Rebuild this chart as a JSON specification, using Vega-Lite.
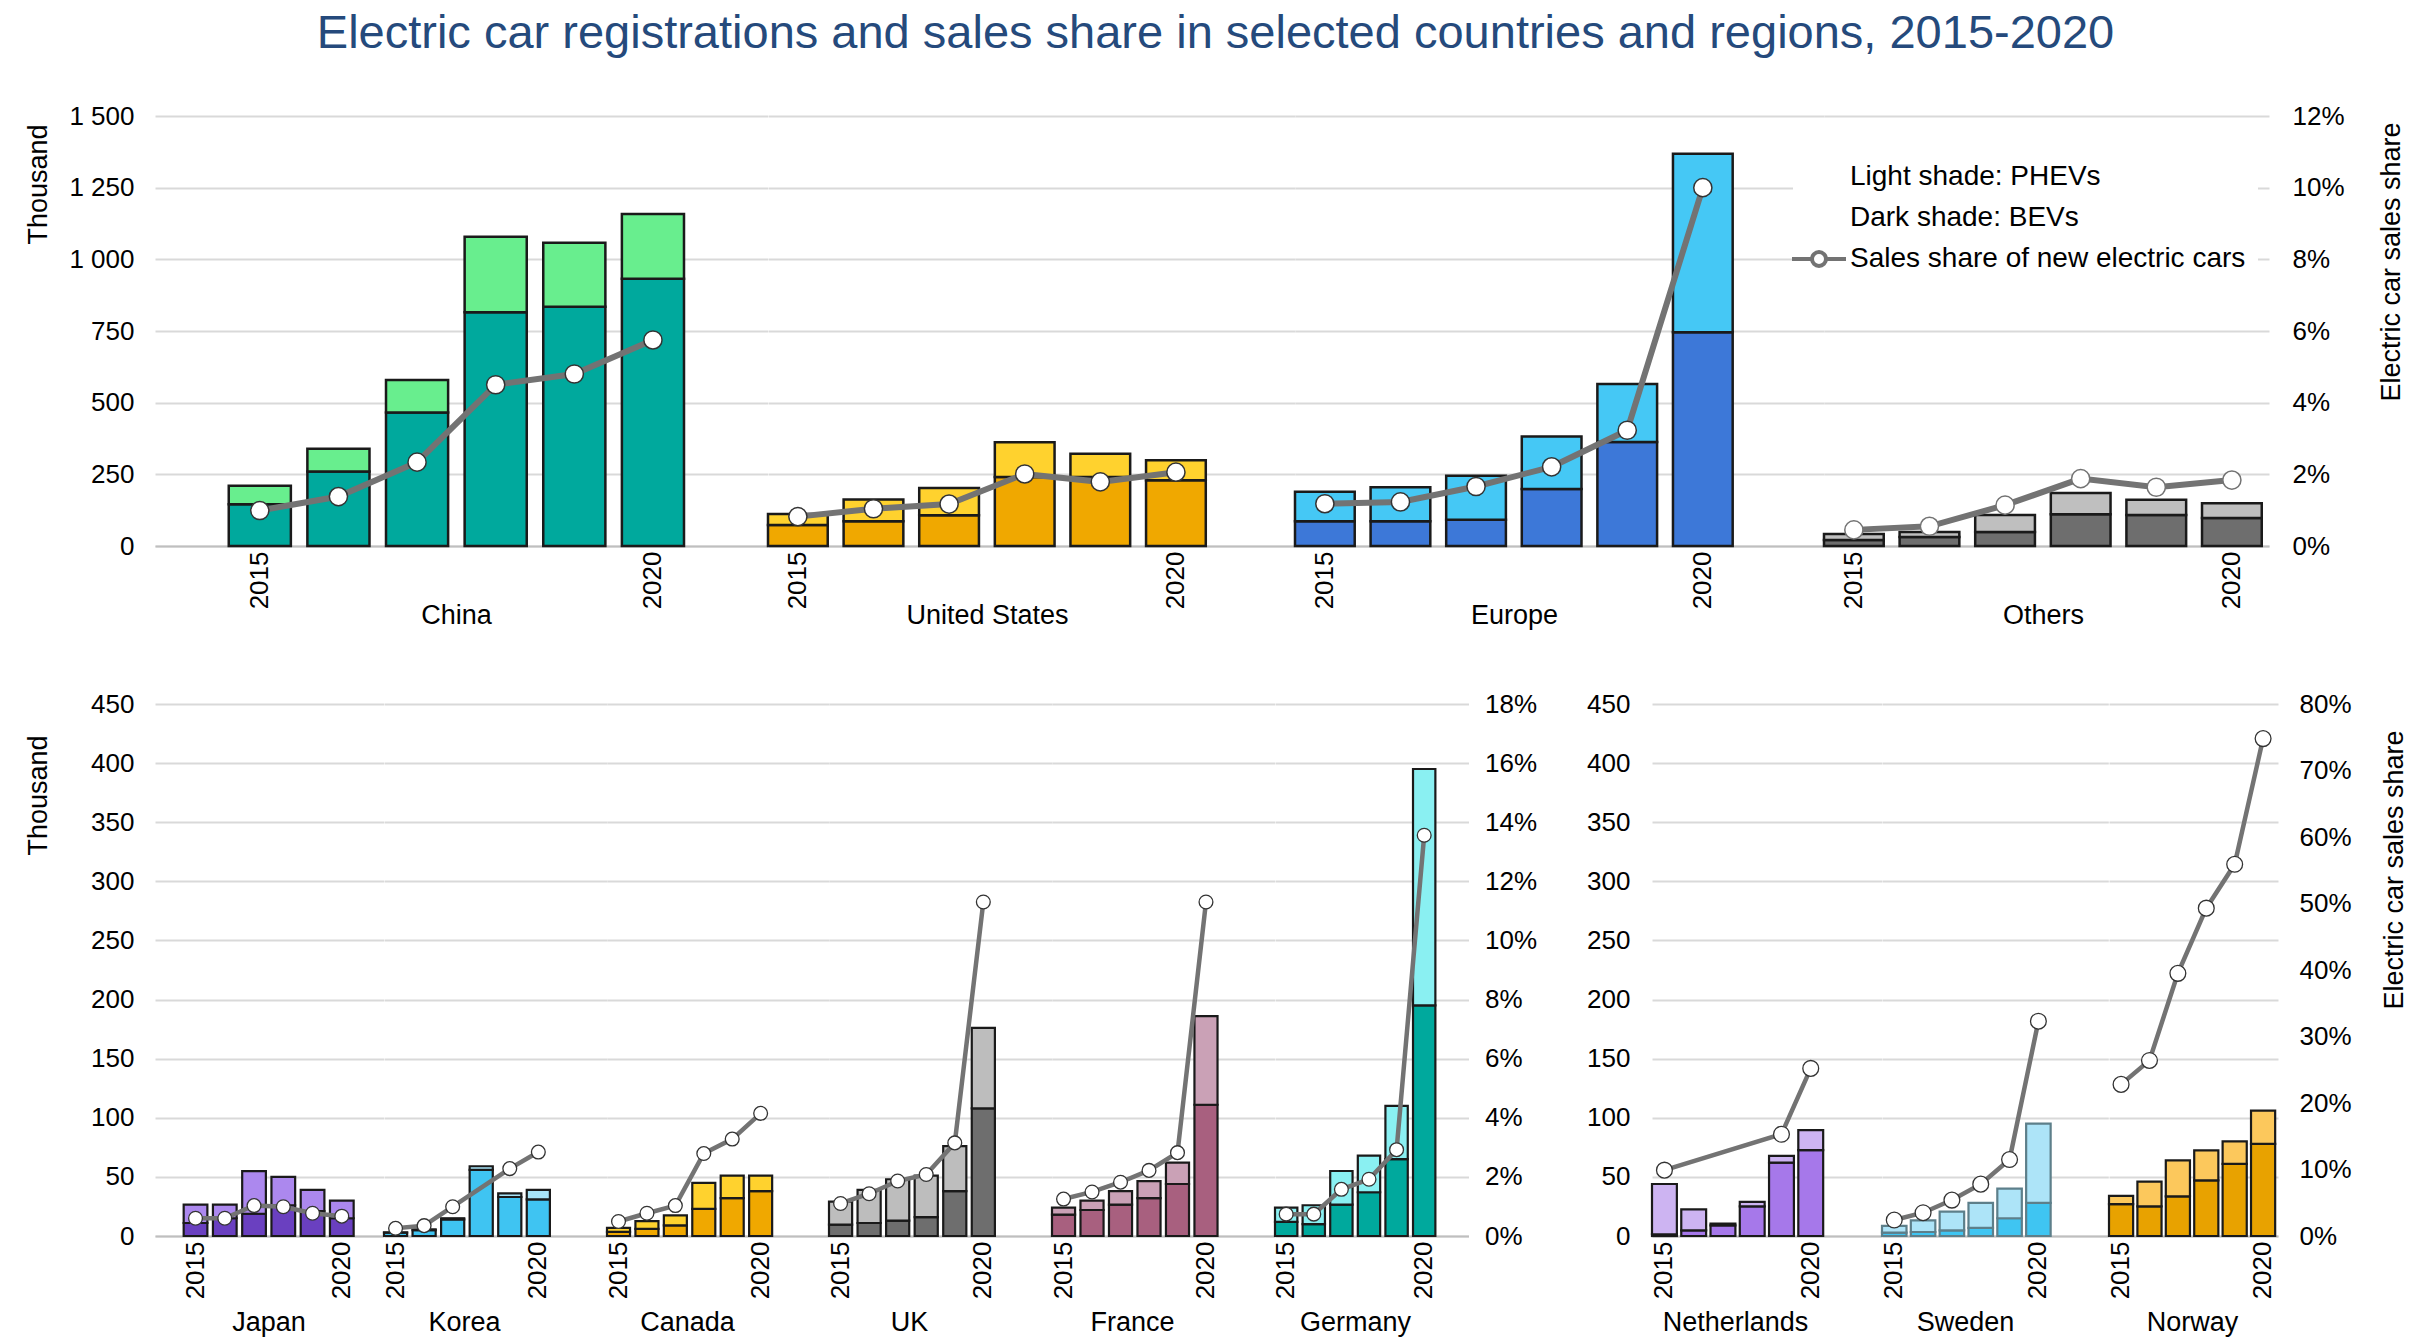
{
"$schema": "https://vega.github.io/schema/vega-lite/v6.json",
"padding": {"left": 24, "top": 10, "right": 5, "bottom": 5},
"background": "white",
"title": {"text": "Electric car registrations and sales share in selected countries and regions, 2015-2020", "fontSize": 47, "font": "Liberation Sans", "fontWeight": "normal", "color": "#254a7c", "anchor": "middle", "offset": 45},
"data": {"values": [
{"c":"China","yr":2015,"bev":146,"phev":64,"share":0.99},
{"c":"China","yr":2016,"bev":260,"phev":79,"share":1.38},
{"c":"China","yr":2017,"bev":466,"phev":113,"share":2.34},
{"c":"China","yr":2018,"bev":815,"phev":264,"share":4.5},
{"c":"China","yr":2019,"bev":835,"phev":223,"share":4.8},
{"c":"China","yr":2020,"bev":932,"phev":226,"share":5.75},
{"c":"United States","yr":2015,"bev":73,"phev":39,"share":0.82},
{"c":"United States","yr":2016,"bev":86,"phev":76,"share":1.04},
{"c":"United States","yr":2017,"bev":107,"phev":95,"share":1.17},
{"c":"United States","yr":2018,"bev":241,"phev":121,"share":2.01},
{"c":"United States","yr":2019,"bev":241,"phev":81,"share":1.79},
{"c":"United States","yr":2020,"bev":229,"phev":70,"share":2.06},
{"c":"Europe","yr":2015,"bev":86,"phev":103,"share":1.18},
{"c":"Europe","yr":2016,"bev":86,"phev":119,"share":1.23},
{"c":"Europe","yr":2017,"bev":92,"phev":153,"share":1.66},
{"c":"Europe","yr":2018,"bev":199,"phev":183,"share":2.21},
{"c":"Europe","yr":2019,"bev":363,"phev":202,"share":3.23},
{"c":"Europe","yr":2020,"bev":746,"phev":622,"share":10.0},
{"c":"Others","yr":2015,"bev":21,"phev":21,"share":0.45},
{"c":"Others","yr":2016,"bev":31,"phev":18,"share":0.55},
{"c":"Others","yr":2017,"bev":49,"phev":59,"share":1.14},
{"c":"Others","yr":2018,"bev":111,"phev":74,"share":1.88},
{"c":"Others","yr":2019,"bev":108,"phev":53,"share":1.64},
{"c":"Others","yr":2020,"bev":98,"phev":51,"share":1.84},
{"c":"Japan","yr":2015,"bev":11,"phev":15.5,"share":0.6},
{"c":"Japan","yr":2016,"bev":15,"phev":11.5,"share":0.6},
{"c":"Japan","yr":2017,"bev":18.8,"phev":36,"share":1.03},
{"c":"Japan","yr":2018,"bev":26,"phev":24,"share":0.99},
{"c":"Japan","yr":2019,"bev":21,"phev":18,"share":0.77},
{"c":"Japan","yr":2020,"bev":15,"phev":15,"share":0.67},
{"c":"Korea","yr":2015,"bev":2.9,"phev":0.1,"share":0.26},
{"c":"Korea","yr":2016,"bev":5,"phev":0.6,"share":0.35},
{"c":"Korea","yr":2017,"bev":14,"phev":1,"share":0.99},
{"c":"Korea","yr":2018,"bev":56,"phev":3,"share":null},
{"c":"Korea","yr":2019,"bev":33,"phev":3,"share":2.28},
{"c":"Korea","yr":2020,"bev":31,"phev":8,"share":2.84},
{"c":"Canada","yr":2015,"bev":3.5,"phev":3.3,"share":0.49},
{"c":"Canada","yr":2016,"bev":6,"phev":6.5,"share":0.77},
{"c":"Canada","yr":2017,"bev":9,"phev":8.5,"share":1.03},
{"c":"Canada","yr":2018,"bev":23,"phev":22,"share":2.79},
{"c":"Canada","yr":2019,"bev":32,"phev":19,"share":3.28},
{"c":"Canada","yr":2020,"bev":38,"phev":13,"share":4.15},
{"c":"UK","yr":2015,"bev":9.7,"phev":19.3,"share":1.1},
{"c":"UK","yr":2016,"bev":11,"phev":28,"share":1.43},
{"c":"UK","yr":2017,"bev":13,"phev":35,"share":1.86},
{"c":"UK","yr":2018,"bev":16,"phev":35,"share":2.08},
{"c":"UK","yr":2019,"bev":38,"phev":38,"share":3.15},
{"c":"UK","yr":2020,"bev":108,"phev":68,"share":11.3},
{"c":"France","yr":2015,"bev":18,"phev":6,"share":1.25},
{"c":"France","yr":2016,"bev":22,"phev":8,"share":1.49},
{"c":"France","yr":2017,"bev":26.5,"phev":11.5,"share":1.82},
{"c":"France","yr":2018,"bev":32,"phev":14.5,"share":2.22},
{"c":"France","yr":2019,"bev":44,"phev":18,"share":2.82},
{"c":"France","yr":2020,"bev":111,"phev":75,"share":11.3},
{"c":"Germany","yr":2015,"bev":12,"phev":12,"share":0.74},
{"c":"Germany","yr":2016,"bev":10,"phev":16,"share":0.74},
{"c":"Germany","yr":2017,"bev":26.5,"phev":28.5,"share":1.58},
{"c":"Germany","yr":2018,"bev":37,"phev":31,"share":1.92},
{"c":"Germany","yr":2019,"bev":65,"phev":45,"share":2.92},
{"c":"Germany","yr":2020,"bev":195,"phev":200,"share":13.56},
{"c":"Netherlands","yr":2015,"bev":1.5,"phev":42.5,"share":9.9},
{"c":"Netherlands","yr":2016,"bev":4.8,"phev":17.8,"share":null},
{"c":"Netherlands","yr":2017,"bev":9,"phev":1.5,"share":null},
{"c":"Netherlands","yr":2018,"bev":25,"phev":3.8,"share":null},
{"c":"Netherlands","yr":2019,"bev":62,"phev":5.8,"share":15.3},
{"c":"Netherlands","yr":2020,"bev":72.6,"phev":16.9,"share":25.2},
{"c":"Sweden","yr":2015,"bev":2.8,"phev":5.7,"share":2.4},
{"c":"Sweden","yr":2016,"bev":3.4,"phev":9.9,"share":3.5},
{"c":"Sweden","yr":2017,"bev":4.8,"phev":15.8,"share":5.4},
{"c":"Sweden","yr":2018,"bev":6.8,"phev":21.2,"share":7.8},
{"c":"Sweden","yr":2019,"bev":15,"phev":25,"share":11.5},
{"c":"Sweden","yr":2020,"bev":28,"phev":67,"share":32.3},
{"c":"Norway","yr":2015,"bev":27,"phev":7,"share":22.8},
{"c":"Norway","yr":2016,"bev":25,"phev":21,"share":26.4},
{"c":"Norway","yr":2017,"bev":33.5,"phev":30.5,"share":39.5},
{"c":"Norway","yr":2018,"bev":47,"phev":25.5,"share":49.3},
{"c":"Norway","yr":2019,"bev":61,"phev":19,"share":55.9},
{"c":"Norway","yr":2020,"bev":78,"phev":28,"share":74.8}
]},
"spacing": 63,
"resolve": {"scale": {"color": "independent", "stroke": "independent"}},
"vconcat": [
{
"hconcat": [
{"width": 612.5, "height": 430, "transform": [{"filter": "datum.c == 'China'"}],
 "layer": [
  {"transform": [{"fold": ["bev","phev"], "as": ["type","value"]}],
   "mark": {"type": "bar", "strokeWidth": 2.5},
   "encoding": {
    "x": {"field": "yr", "type": "ordinal", "scale": {"paddingInner": 0.21, "paddingOuter": 1.156, "align": 0.469}, "axis": {"values": [2015, 2020], "title": "China", "titleX": 301, "titleY": 56}},
    "y": {"field": "value", "type": "quantitative", "stack": "zero", "scale": {"domain": [0,1500]}, "axis": {"values": [0,250,500,750,1000,1250,1500], "labelExpr": "replace(format(datum.value, ','), ',', ' ')", "title": "Thousand", "titleX": -103, "titleY": 8}},
    "color": {"field": "type", "scale": {"domain": ["bev","phev"], "range": ["#00a99d","#68ee8e"]}, "legend": null},
    "order": {"field": "type", "sort": "ascending"}}},
  {"transform": [{"filter": "isValid(datum.share)"}],
   "mark": {"type": "line", "color": "#737373", "strokeWidth": 6, "point": {"filled": true, "fill": "white", "stroke": "#333333", "strokeWidth": 1.5, "size": 330}},
   "encoding": {"x": {"field": "yr", "type": "ordinal"}, "y": {"field": "share", "type": "quantitative", "scale": {"domain": [0,12]}, "axis": null}}}
 ],
 "resolve": {"scale": {"y": "independent"}}},
{"width": 527, "height": 430, "transform": [{"filter": "datum.c == 'United States'"}],
 "layer": [
  {"transform": [{"fold": ["bev","phev"], "as": ["type","value"]}],
   "mark": {"type": "bar", "strokeWidth": 2.5},
   "encoding": {
    "x": {"field": "yr", "type": "ordinal", "scale": {"paddingInner": 0.21, "paddingOuter": 0.59, "align": 0}, "axis": {"values": [2015, 2020], "title": "United States", "titleX": 219, "titleY": 56}},
    "y": {"field": "value", "type": "quantitative", "stack": "zero", "scale": {"domain": [0,1500]}, "axis": {"values": [0,250,500,750,1000,1250,1500], "labels": false, "title": null}},
    "color": {"field": "type", "scale": {"domain": ["bev","phev"], "range": ["#f0a800","#ffd22e"]}, "legend": null},
    "order": {"field": "type", "sort": "ascending"}}},
  {"transform": [{"filter": "isValid(datum.share)"}],
   "mark": {"type": "line", "color": "#737373", "strokeWidth": 6, "point": {"filled": true, "fill": "white", "stroke": "#333333", "strokeWidth": 1.5, "size": 330}},
   "encoding": {"x": {"field": "yr", "type": "ordinal"}, "y": {"field": "share", "type": "quantitative", "scale": {"domain": [0,12]}, "axis": null}}}
 ],
 "resolve": {"scale": {"y": "independent"}}},
{"width": 529, "height": 430, "transform": [{"filter": "datum.c == 'Europe'"}],
 "layer": [
  {"transform": [{"fold": ["bev","phev"], "as": ["type","value"]}],
   "mark": {"type": "bar", "strokeWidth": 2.5},
   "encoding": {
    "x": {"field": "yr", "type": "ordinal", "scale": {"paddingInner": 0.21, "paddingOuter": 0.604, "align": 0}, "axis": {"values": [2015, 2020], "title": "Europe", "titleX": 219, "titleY": 56}},
    "y": {"field": "value", "type": "quantitative", "stack": "zero", "scale": {"domain": [0,1500]}, "axis": {"values": [0,250,500,750,1000,1250,1500], "labels": false, "title": null}},
    "color": {"field": "type", "scale": {"domain": ["bev","phev"], "range": ["#3d78d8","#45c8f5"]}, "legend": null},
    "order": {"field": "type", "sort": "ascending"}}},
  {"transform": [{"filter": "isValid(datum.share)"}],
   "mark": {"type": "line", "color": "#737373", "strokeWidth": 6, "point": {"filled": true, "fill": "white", "stroke": "#333333", "strokeWidth": 1.5, "size": 330}},
   "encoding": {"x": {"field": "yr", "type": "ordinal"}, "y": {"field": "share", "type": "quantitative", "scale": {"domain": [0,12]}, "axis": null}}}
 ],
 "resolve": {"scale": {"y": "independent"}}},
{"width": 445, "height": 430, "transform": [{"filter": "datum.c == 'Others'"}],
 "layer": [
  {"transform": [{"fold": ["bev","phev"], "as": ["type","value"]}],
   "mark": {"type": "bar", "strokeWidth": 2.5},
   "encoding": {
    "x": {"field": "yr", "type": "ordinal", "scale": {"paddingInner": 0.21, "paddingOuter": 0.048, "align": 0}, "axis": {"values": [2015, 2020], "title": "Others", "titleX": 219, "titleY": 56}},
    "y": {"field": "value", "type": "quantitative", "stack": "zero", "scale": {"domain": [0,1500]}, "axis": {"values": [0,250,500,750,1000,1250,1500], "labels": false, "title": null}},
    "color": {"field": "type", "scale": {"domain": ["bev","phev"], "range": ["#6e6e6e","#bfbfbf"]}, "legend": null},
    "order": {"field": "type", "sort": "ascending"}}},
  {"transform": [{"filter": "isValid(datum.share)"}],
   "mark": {"type": "line", "strokeWidth": 6, "point": {"filled": true, "fill": "white", "strokeWidth": 1.5, "size": 330}},
   "encoding": {"x": {"field": "yr", "type": "ordinal"},
    "y": {"field": "share", "type": "quantitative", "scale": {"domain": [0,12]}, "axis": {"orient": "right", "values": [0,2,4,6,8,10,12], "labelExpr": "datum.value + '%'", "grid": false, "labelPadding": 23, "title": "Electric car sales share", "titleX": 136, "titleY": 6}},
    "stroke": {"datum": "Sales share of new electric cars", "scale": {"domain": ["Light shade: PHEVs","Dark shade: BEVs","Sales share of new electric cars"], "range": ["transparent","transparent","#737373"]},
      "legend": {"title": null, "orient": "none", "legendX": -31, "legendY": 35, "symbolType": "M-2.7,0L-0.7,0M0.7,0L2.7,0M0.7,0A0.7,0.7,0,1,1,-0.7,0A0.7,0.7,0,1,1,0.7,0", "symbolSize": 400, "symbolStrokeWidth": 4, "symbolFillColor": "white", "labelFontSize": 28, "labelFont": "Liberation Sans", "labelColor": "black", "labelOffset": 17, "rowPadding": 11, "fillColor": "white", "padding": 12, "labelLimit": 700}}}}
 ],
 "resolve": {"scale": {"y": "independent"}}}
],
"spacing": 0, "bounds": "flush", "resolve": {"scale": {"color": "independent", "stroke": "independent"}}
},
{
"hconcat": [
{"hconcat": [
{"width": 228.5, "height": 532, "transform": [{"filter": "datum.c == 'Japan'"}],
 "layer": [
  {"transform": [{"fold": ["bev","phev"], "as": ["type","value"]}],
   "mark": {"type": "bar", "strokeWidth": 2.2},
   "encoding": {
    "x": {"field": "yr", "type": "ordinal", "scale": {"paddingInner": 0.19, "paddingOuter": 1.234, "align": 0.49}, "axis": {"values": [2015, 2020], "title": "Japan", "titleX": 113.5, "titleY": 73}},
    "y": {"field": "value", "type": "quantitative", "stack": "zero", "scale": {"domain": [0,450]}, "axis": {"values": [0,50,100,150,200,250,300,350,400,450], "title": "Thousand", "titleX": -103, "titleY": 31}},
    "color": {"field": "type", "scale": {"domain": ["bev","phev"], "range": ["#6a40c0","#ac88ee"]}, "legend": null},
    "order": {"field": "type", "sort": "ascending"}}},
  {"transform": [{"filter": "isValid(datum.share)"}],
   "mark": {"type": "line", "color": "#737373", "strokeWidth": 4.5, "point": {"filled": true, "fill": "white", "stroke": "#333333", "strokeWidth": 1.3, "size": 190}},
   "encoding": {"x": {"field": "yr", "type": "ordinal"}, "y": {"field": "share", "type": "quantitative", "scale": {"domain": [0,18]}, "axis": null}}}
 ],
 "resolve": {"scale": {"y": "independent"}}},
{"width": 223, "height": 532, "transform": [{"filter": "datum.c == 'Korea'"}],
 "layer": [
  {"transform": [{"fold": ["bev","phev"], "as": ["type","value"]}],
   "mark": {"type": "bar", "strokeWidth": 2.2},
   "encoding": {
    "x": {"field": "yr", "type": "ordinal", "scale": {"paddingInner": 0.19, "paddingOuter": 1.134, "align": 0}, "axis": {"values": [2015, 2020], "title": "Korea", "titleX": 80, "titleY": 73}},
    "y": {"field": "value", "type": "quantitative", "stack": "zero", "scale": {"domain": [0,450]}, "axis": {"values": [0,50,100,150,200,250,300,350,400,450], "labels": false, "title": null}},
    "color": {"field": "type", "scale": {"domain": ["bev","phev"], "range": ["#3fc4f2","#a8e4f8"]}, "legend": null},
    "order": {"field": "type", "sort": "ascending"}}},
  {"transform": [{"filter": "isValid(datum.share)"}],
   "mark": {"type": "line", "color": "#737373", "strokeWidth": 4.5, "point": {"filled": true, "fill": "white", "stroke": "#333333", "strokeWidth": 1.3, "size": 190}},
   "encoding": {"x": {"field": "yr", "type": "ordinal"}, "y": {"field": "share", "type": "quantitative", "scale": {"domain": [0,18]}, "axis": null}}}
 ],
 "resolve": {"scale": {"y": "independent"}}},
{"width": 222, "height": 532, "transform": [{"filter": "datum.c == 'Canada'"}],
 "layer": [
  {"transform": [{"fold": ["bev","phev"], "as": ["type","value"]}],
   "mark": {"type": "bar", "strokeWidth": 2.2},
   "encoding": {
    "x": {"field": "yr", "type": "ordinal", "scale": {"paddingInner": 0.19, "paddingOuter": 1.116, "align": 0}, "axis": {"values": [2015, 2020], "title": "Canada", "titleX": 80, "titleY": 73}},
    "y": {"field": "value", "type": "quantitative", "stack": "zero", "scale": {"domain": [0,450]}, "axis": {"values": [0,50,100,150,200,250,300,350,400,450], "labels": false, "title": null}},
    "color": {"field": "type", "scale": {"domain": ["bev","phev"], "range": ["#f0a800","#ffd22e"]}, "legend": null},
    "order": {"field": "type", "sort": "ascending"}}},
  {"transform": [{"filter": "isValid(datum.share)"}],
   "mark": {"type": "line", "color": "#737373", "strokeWidth": 4.5, "point": {"filled": true, "fill": "white", "stroke": "#333333", "strokeWidth": 1.3, "size": 190}},
   "encoding": {"x": {"field": "yr", "type": "ordinal"}, "y": {"field": "share", "type": "quantitative", "scale": {"domain": [0,18]}, "axis": null}}}
 ],
 "resolve": {"scale": {"y": "independent"}}},
{"width": 223, "height": 532, "transform": [{"filter": "datum.c == 'UK'"}],
 "layer": [
  {"transform": [{"fold": ["bev","phev"], "as": ["type","value"]}],
   "mark": {"type": "bar", "strokeWidth": 2.2},
   "encoding": {
    "x": {"field": "yr", "type": "ordinal", "scale": {"paddingInner": 0.19, "paddingOuter": 1.134, "align": 0}, "axis": {"values": [2015, 2020], "title": "UK", "titleX": 80, "titleY": 73}},
    "y": {"field": "value", "type": "quantitative", "stack": "zero", "scale": {"domain": [0,450]}, "axis": {"values": [0,50,100,150,200,250,300,350,400,450], "labels": false, "title": null}},
    "color": {"field": "type", "scale": {"domain": ["bev","phev"], "range": ["#6e6e6e","#bdbdbd"]}, "legend": null},
    "order": {"field": "type", "sort": "ascending"}}},
  {"transform": [{"filter": "isValid(datum.share)"}],
   "mark": {"type": "line", "color": "#737373", "strokeWidth": 4.5, "point": {"filled": true, "fill": "white", "stroke": "#333333", "strokeWidth": 1.3, "size": 190}},
   "encoding": {"x": {"field": "yr", "type": "ordinal"}, "y": {"field": "share", "type": "quantitative", "scale": {"domain": [0,18]}, "axis": null}}}
 ],
 "resolve": {"scale": {"y": "independent"}}},
{"width": 222.5, "height": 532, "transform": [{"filter": "datum.c == 'France'"}],
 "layer": [
  {"transform": [{"fold": ["bev","phev"], "as": ["type","value"]}],
   "mark": {"type": "bar", "strokeWidth": 2.2},
   "encoding": {
    "x": {"field": "yr", "type": "ordinal", "scale": {"paddingInner": 0.19, "paddingOuter": 1.125, "align": 0}, "axis": {"values": [2015, 2020], "title": "France", "titleX": 80, "titleY": 73}},
    "y": {"field": "value", "type": "quantitative", "stack": "zero", "scale": {"domain": [0,450]}, "axis": {"values": [0,50,100,150,200,250,300,350,400,450], "labels": false, "title": null}},
    "color": {"field": "type", "scale": {"domain": ["bev","phev"], "range": ["#a8607f","#caa1b6"]}, "legend": null},
    "order": {"field": "type", "sort": "ascending"}}},
  {"transform": [{"filter": "isValid(datum.share)"}],
   "mark": {"type": "line", "color": "#737373", "strokeWidth": 4.5, "point": {"filled": true, "fill": "white", "stroke": "#333333", "strokeWidth": 1.3, "size": 190}},
   "encoding": {"x": {"field": "yr", "type": "ordinal"}, "y": {"field": "share", "type": "quantitative", "scale": {"domain": [0,18]}, "axis": null}}}
 ],
 "resolve": {"scale": {"y": "independent"}}},
{"width": 193.5, "height": 532, "transform": [{"filter": "datum.c == 'Germany'"}],
 "layer": [
  {"transform": [{"fold": ["bev","phev"], "as": ["type","value"]}],
   "mark": {"type": "bar", "strokeWidth": 2.2},
   "encoding": {
    "x": {"field": "yr", "type": "ordinal", "scale": {"paddingInner": 0.19, "paddingOuter": 0.6, "align": 0}, "axis": {"values": [2015, 2020], "title": "Germany", "titleX": 80, "titleY": 73}},
    "y": {"field": "value", "type": "quantitative", "stack": "zero", "scale": {"domain": [0,450]}, "axis": {"values": [0,50,100,150,200,250,300,350,400,450], "labels": false, "title": null}},
    "color": {"field": "type", "scale": {"domain": ["bev","phev"], "range": ["#00a99d","#8af0f2"]}, "legend": null},
    "order": {"field": "type", "sort": "ascending"}}},
  {"transform": [{"filter": "isValid(datum.share)"}],
   "mark": {"type": "line", "color": "#737373", "strokeWidth": 4.5, "point": {"filled": true, "fill": "white", "stroke": "#333333", "strokeWidth": 1.3, "size": 190}},
   "encoding": {"x": {"field": "yr", "type": "ordinal"}, "y": {"field": "share", "type": "quantitative", "scale": {"domain": [0,18]}, "axis": {"orient": "right", "values": [0,2,4,6,8,10,12,14,16,18], "labelExpr": "datum.value + '%'", "grid": false, "labelPadding": 16, "title": null}}}}
 ],
 "resolve": {"scale": {"y": "independent"}}}
], "spacing": 0, "bounds": "flush", "resolve": {"scale": {"color": "independent", "stroke": "independent"}}},
{"hconcat": [
{"width": 229.7, "height": 532, "transform": [{"filter": "datum.c == 'Netherlands'"}],
 "layer": [
  {"transform": [{"fold": ["bev","phev"], "as": ["type","value"]}],
   "mark": {"type": "bar", "strokeWidth": 2.2},
   "encoding": {
    "x": {"field": "yr", "type": "ordinal", "scale": {"paddingInner": 0.15, "paddingOuter": 1.12, "align": 0}, "axis": {"values": [2015, 2020], "title": "Netherlands", "titleX": 83, "titleY": 73}},
    "y": {"field": "value", "type": "quantitative", "stack": "zero", "scale": {"domain": [0,450]}, "axis": {"values": [0,50,100,150,200,250,300,350,400,450], "title": null, "labelPadding": 22}},
    "color": {"field": "type", "scale": {"domain": ["bev","phev"], "range": ["#a678ea","#cdb4f2"]}, "legend": null},
    "order": {"field": "type", "sort": "ascending"}}},
  {"transform": [{"filter": "isValid(datum.share)"}],
   "mark": {"type": "line", "color": "#737373", "strokeWidth": 4.5, "point": {"filled": true, "fill": "white", "stroke": "#333333", "strokeWidth": 1.3, "size": 250}},
   "encoding": {"x": {"field": "yr", "type": "ordinal"}, "y": {"field": "share", "type": "quantitative", "scale": {"domain": [0,80]}, "axis": null}}}
 ],
 "resolve": {"scale": {"y": "independent"}}},
{"width": 226.3, "height": 532, "transform": [{"filter": "datum.c == 'Sweden'"}],
 "layer": [
  {"transform": [{"fold": ["bev","phev"], "as": ["type","value"]}],
   "mark": {"type": "bar", "strokeWidth": 2.2, "stroke": "#5d7f8a"},
   "encoding": {
    "x": {"field": "yr", "type": "ordinal", "scale": {"paddingInner": 0.15, "paddingOuter": 1.06, "align": 0}, "axis": {"values": [2015, 2020], "title": "Sweden", "titleX": 83, "titleY": 73}},
    "y": {"field": "value", "type": "quantitative", "stack": "zero", "scale": {"domain": [0,450]}, "axis": {"values": [0,50,100,150,200,250,300,350,400,450], "labels": false, "title": null}},
    "color": {"field": "type", "scale": {"domain": ["bev","phev"], "range": ["#3fc5f2","#ade4f8"]}, "legend": null},
    "order": {"field": "type", "sort": "ascending"}}},
  {"transform": [{"filter": "isValid(datum.share)"}],
   "mark": {"type": "line", "color": "#737373", "strokeWidth": 4.5, "point": {"filled": true, "fill": "white", "stroke": "#333333", "strokeWidth": 1.3, "size": 250}},
   "encoding": {"x": {"field": "yr", "type": "ordinal"}, "y": {"field": "share", "type": "quantitative", "scale": {"domain": [0,80]}, "axis": null}}}
 ],
 "resolve": {"scale": {"y": "independent"}}},
{"width": 169, "height": 532, "transform": [{"filter": "datum.c == 'Norway'"}],
 "layer": [
  {"transform": [{"fold": ["bev","phev"], "as": ["type","value"]}],
   "mark": {"type": "bar", "strokeWidth": 2.2},
   "encoding": {
    "x": {"field": "yr", "type": "ordinal", "scale": {"paddingInner": 0.15, "paddingOuter": 0.05, "align": 0}, "axis": {"values": [2015, 2020], "title": "Norway", "titleX": 83, "titleY": 73}},
    "y": {"field": "value", "type": "quantitative", "stack": "zero", "scale": {"domain": [0,450]}, "axis": {"values": [0,50,100,150,200,250,300,350,400,450], "labels": false, "title": null}},
    "color": {"field": "type", "scale": {"domain": ["bev","phev"], "range": ["#e8a200","#fcc85c"]}, "legend": null},
    "order": {"field": "type", "sort": "ascending"}}},
  {"transform": [{"filter": "isValid(datum.share)"}],
   "mark": {"type": "line", "color": "#737373", "strokeWidth": 4.5, "point": {"filled": true, "fill": "white", "stroke": "#333333", "strokeWidth": 1.3, "size": 250}},
   "encoding": {"x": {"field": "yr", "type": "ordinal"}, "y": {"field": "share", "type": "quantitative", "scale": {"domain": [0,80]}, "axis": {"orient": "right", "values": [0,10,20,30,40,50,60,70,80], "labelExpr": "datum.value + '%'", "grid": false, "labelPadding": 21, "title": "Electric car sales share", "titleX": 130, "titleY": 26}}}}
 ],
 "resolve": {"scale": {"y": "independent"}}}
], "spacing": 0, "bounds": "flush", "resolve": {"scale": {"color": "independent", "stroke": "independent"}}}
], "spacing": 49, "resolve": {"scale": {"color": "independent", "stroke": "independent"}}
}
],
"config": {
 "view": {"stroke": null},
 "font": "Liberation Sans",
 "bar": {"stroke": "#1a1a1a"},
 "axis": {"labelFont": "Liberation Sans", "titleFont": "Liberation Sans", "labelColor": "#000000", "titleColor": "#000000", "titleFontWeight": "normal"},
 "axisX": {"labelAngle": 270, "labelFontSize": 26, "labelPadding": 5, "ticks": false, "domain": true, "domainColor": "#bfbfbf", "domainWidth": 2, "grid": false, "titleFontSize": 27, "titleBaseline": "top", "titleAlign": "center"},
 "axisY": {"grid": true, "gridColor": "#d9d9d9", "gridWidth": 2, "domain": false, "ticks": false, "labelFontSize": 26, "labelPadding": 21, "titleFontSize": 27, "titleAngle": 270, "titleAlign": "right", "titleBaseline": "bottom"}
}
}
